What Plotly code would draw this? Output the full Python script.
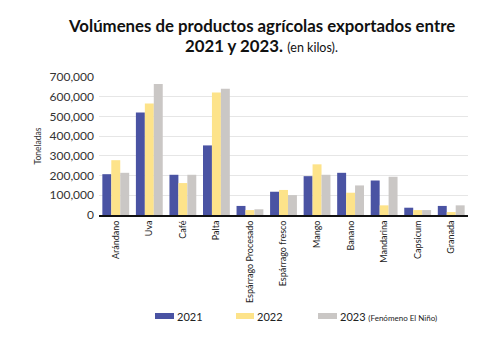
import plotly.graph_objects as go

categories = ["Arándano", "Uva", "Café", "Palta", "Espárrago Procesado", "Espárrago fresco",
              "Mango", "Banano", "Mandarina", "Capsicum", "Granada"]
v2021 = [207000, 520000, 204000, 353000, 46000, 118000, 197000, 214000, 175000, 37000, 46000]
v2022 = [278000, 565000, 162000, 621000, 25000, 127000, 257000, 113000, 49000, 25000, 15000]
v2023 = [214000, 665000, 204000, 641000, 29000, 101000, 204000, 150000, 194000, 25000, 49000]
series_names = ["2021", "2022", "2023"]
colors = ["#4a53a3", "#fde38a", "#cac7c5"]
tick_vals = [0, 100000, 200000, 300000, 400000, 500000, 600000, 700000]

FONT = "Lato"
L, R, T, B = 99, 24, 77, 123
PW = 492 - L - R
PH = 338 - T - B

def px(x):
    return (x - L) / PW

def py(y):
    return (338 - B - y) / PH

fig = go.Figure()
for name, vals, col in zip(series_names, [v2021, v2022, v2023], colors):
    fig.add_trace(go.Bar(x=categories, y=vals, name=name, marker_color=col,
                         marker_line_width=0, showlegend=False))

fig.update_layout(
    width=492, height=338,
    margin=dict(l=L, r=R, t=T, b=B),
    paper_bgcolor="white", plot_bgcolor="white",
    barmode="group", bargap=0.2, bargroupgap=0,
    font=dict(family=FONT, color="#333333"),
    xaxis=dict(tickangle=-90, tickfont=dict(size=9, color="#222222"),
               showline=True, linecolor="#111111", linewidth=2, ticks="",
               showgrid=False),
    yaxis=dict(range=[0, 700000], tickvals=tick_vals, tickformat=",",
               tickfont=dict(size=12, color="#333333"), ticklabelstandoff=4,
               showgrid=True, gridcolor="#e6e6e6", gridwidth=1,
               zeroline=False, showline=False, ticks="",
               title=dict(text="Toneladas", font=dict(size=8.5, color="#333333"), standoff=6)),
)

# title as annotations
fig.add_annotation(xref="paper", yref="paper", x=px(261), y=py(25),
                   text="<b>Volúmenes de productos agrícolas exportados entre</b>",
                   showarrow=False, xanchor="center", yanchor="middle",
                   font=dict(family=FONT, size=16.8, color="#111111"))
fig.add_annotation(xref="paper", yref="paper", x=px(261), y=py(46),
                   text="<b>2021 y 2023.</b> <span style='font-size:12.5px'>(en kilos).</span>",
                   showarrow=False, xanchor="center", yanchor="middle",
                   font=dict(family=FONT, size=16.8, color="#111111"))

# custom legend
legend_items = [(155, 174, "2021"), (236, 254, "2022"),
                (318, 337, "2023 <span style='font-size:8px'>(Fenómeno El Niño)</span>")]
for (x0, x1, label), col in zip(legend_items, colors):
    fig.add_shape(type="rect", xref="paper", yref="paper",
                  x0=px(x0), x1=px(x1), y0=py(319), y1=py(313),
                  fillcolor=col, line_width=0)
    fig.add_annotation(xref="paper", yref="paper", x=px(x1 + 1), y=py(316),
                       text=label, showarrow=False, xanchor="left", yanchor="middle",
                       font=dict(family=FONT, size=11, color="#222222"))

fig.write_html("out.html")
